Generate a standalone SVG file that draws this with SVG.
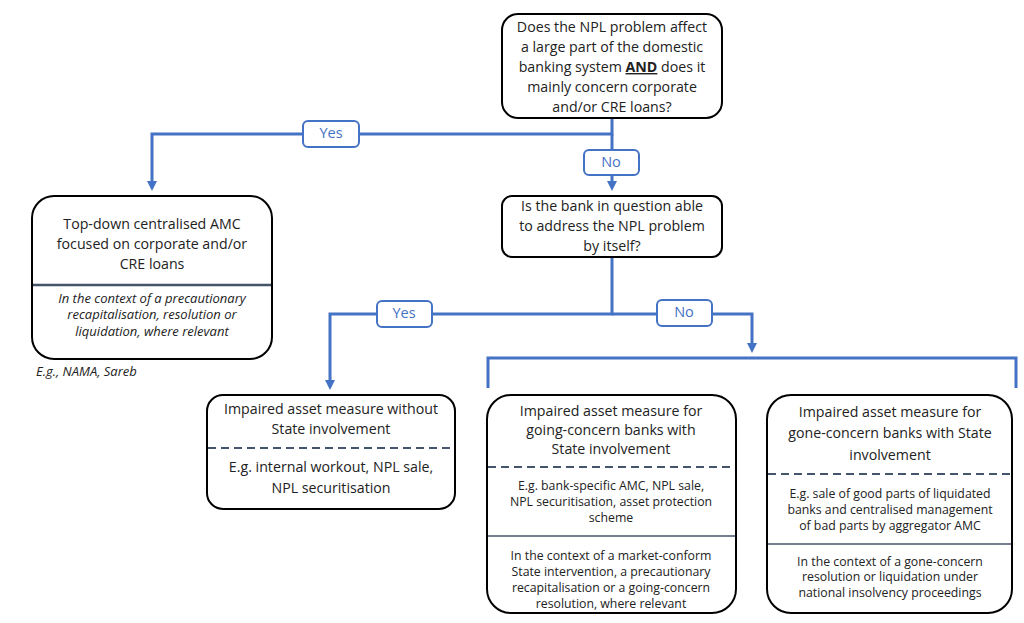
<svg xmlns="http://www.w3.org/2000/svg" width="1024" height="623" viewBox="0 0 1024 623">
<style>
.node{fill:#fff;stroke:#000;stroke-width:2}
.t{font-family:"Open Sans","Noto Sans",sans-serif;font-size:14.2px;fill:#222;text-anchor:middle;dominant-baseline:middle}
.s{font-family:"Open Sans","Noto Sans",sans-serif;font-size:12.3px;fill:#222;text-anchor:middle;dominant-baseline:middle}
.i{font-family:"Open Sans","Noto Sans",sans-serif;font-size:13px;font-style:italic;fill:#222;text-anchor:middle;dominant-baseline:middle}
.dash{stroke:#44546a;stroke-width:1.8;stroke-dasharray:8 5}
.sol{stroke:#44546a;stroke-width:1.5}
.conn{fill:none;stroke:#4472c4;stroke-width:3}
.lbl{fill:#fff;stroke:#4472c4;stroke-width:2}
.lt{font-family:"Open Sans","Noto Sans",sans-serif;font-size:14.5px;fill:#4472c4;text-anchor:middle;dominant-baseline:middle}
</style>
<defs>
<marker id="arr" markerWidth="10" markerHeight="10" refX="5" refY="5" orient="auto" markerUnits="userSpaceOnUse" viewBox="0 0 10 10">
<path d="M0,0 L10,5 L0,10 z" fill="#4472c4"/>
</marker>
</defs>
<g id="connectors">
<path class="conn" d="M612,118 V134 H152 V186" marker-end="url(#arr)"/>
<path class="conn" d="M612,134 V186" marker-end="url(#arr)"/>
<path class="conn" d="M612,257 V314 H330 V385" marker-end="url(#arr)"/>
<path class="conn" d="M612,314 H752 V348" marker-end="url(#arr)"/>
<path class="conn" d="M488,388 V358 H1016 V388"/>
<rect class="lbl" x="303" y="121" width="56" height="26" rx="5"/>
<text class="lt" x="331" y="134">Yes</text>
<rect class="lbl" x="584" y="150" width="55" height="25" rx="5"/>
<text class="lt" x="611" y="163">No</text>
<rect class="lbl" x="377" y="301" width="55" height="26" rx="5"/>
<text class="lt" x="404" y="314">Yes</text>
<rect class="lbl" x="657" y="300" width="55" height="26" rx="5"/>
<text class="lt" x="684" y="313">No</text>
</g>
<g id="q1">
<rect class="node" x="502" y="14" width="220" height="104" rx="16"/>
<text class="t" x="612" y="28">Does the NPL problem affect</text>
<text class="t" x="612" y="48">a large part of the domestic</text>
<text class="t" x="612" y="68">banking system <tspan font-weight="bold" text-decoration="underline">AND</tspan> does it</text>
<text class="t" x="612" y="88">mainly concern corporate</text>
<text class="t" x="612" y="108">and/or CRE loans?</text>
</g>
<g id="amc">
<rect class="node" x="32" y="196" width="240" height="163" rx="22"/>
<text class="t" x="152" y="225">Top-down centralised AMC</text>
<text class="t" x="152" y="245">focused on corporate and/or</text>
<text class="t" x="152" y="265">CRE loans</text>
<line x1="33" y1="285" x2="271" y2="285" stroke="#44546a" stroke-width="2.5"/>
<text class="i" x="152" y="300">In the context of a precautionary</text>
<text class="i" x="152" y="316">recapitalisation, resolution or</text>
<text class="i" x="152" y="333">liquidation, where relevant</text>
<text class="i" x="36" y="373" style="text-anchor:start">E.g., NAMA, Sareb</text>
</g>
<g id="q2">
<rect class="node" x="502" y="196" width="220" height="61" rx="10"/>
<text class="t" x="612" y="207">Is the bank in question able</text>
<text class="t" x="612" y="227">to address the NPL problem</text>
<text class="t" x="612" y="247">by itself?</text>
</g>
<g id="without">
<rect class="node" x="207" y="395" width="248" height="114" rx="16"/>
<text class="t" x="331" y="410">Impaired asset measure without</text>
<text class="t" x="331" y="430">State involvement</text>
<line class="dash" x1="208" y1="448" x2="454" y2="448"/>
<text class="t" x="331" y="468">E.g. internal workout, NPL sale,</text>
<text class="t" x="331" y="489">NPL securitisation</text>
</g>
<g id="going">
<rect class="node" x="487" y="395" width="249" height="218" rx="24"/>
<text class="t" x="611" y="412">Impaired asset measure for</text>
<text class="t" x="611" y="431">going-concern banks with</text>
<text class="t" x="611" y="450">State involvement</text>
<line class="dash" x1="488" y1="467" x2="735" y2="467"/>
<text class="s" x="611" y="487">E.g. bank-specific AMC, NPL sale,</text>
<text class="s" x="611" y="503">NPL securitisation, asset protection</text>
<text class="s" x="611" y="519">scheme</text>
<line class="sol" x1="488" y1="536" x2="735" y2="536"/>
<text class="s" x="611" y="557">In the context of a market-conform</text>
<text class="s" x="611" y="573">State intervention, a precautionary</text>
<text class="s" x="611" y="589">recapitalisation or a going-concern</text>
<text class="s" x="611" y="605">resolution, where relevant</text>
</g>
<g id="gone">
<rect class="node" x="767" y="395" width="245" height="218" rx="24"/>
<text class="t" x="890" y="413">Impaired asset measure for</text>
<text class="t" x="890" y="434">gone-concern banks with State</text>
<text class="t" x="890" y="456">involvement</text>
<line class="dash" x1="768" y1="474" x2="1011" y2="474"/>
<text class="s" x="890" y="495">E.g. sale of good parts of liquidated</text>
<text class="s" x="890" y="511">banks and centralised management</text>
<text class="s" x="890" y="527">of bad parts by aggregator AMC</text>
<line class="sol" x1="768" y1="544" x2="1011" y2="544"/>
<text class="s" x="890" y="563">In the context of a gone-concern</text>
<text class="s" x="890" y="578">resolution or liquidation under</text>
<text class="s" x="890" y="594">national insolvency proceedings</text>
</g>
</svg>
